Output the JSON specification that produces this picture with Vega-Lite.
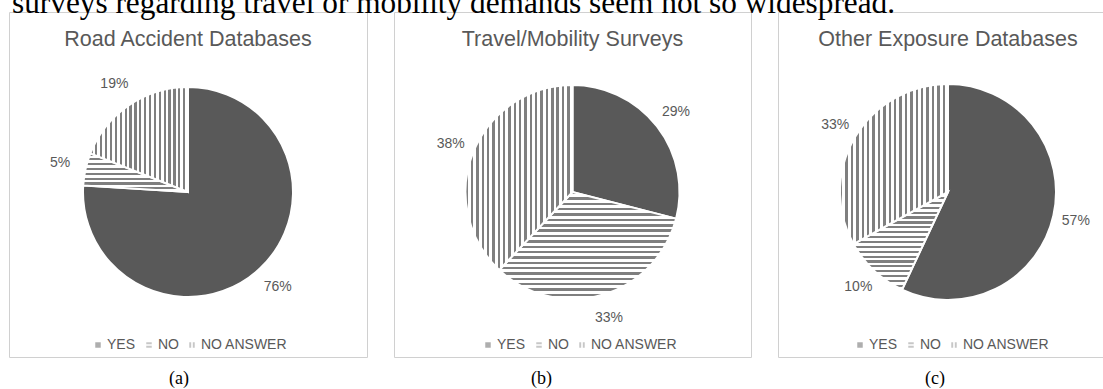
{
"$schema": "https://vega.github.io/schema/vega-lite/v6.json",
"autosize": {"type": "none"},
"padding": {"left": 9, "top": 12, "right": 1094, "bottom": 377},
"background": "white",
"title": {"text": "surveys regarding travel or mobility demands seem not so widespread.", "anchor": "start", "font": "Liberation Serif", "fontSize": 31.3, "color": "#000000", "offset": -7.5, "dx": 3},
"params": [
{"name": "gH8", "value": {"gradient": "linear", "x1": 0, "y1": 0, "x2": 0, "y2": 1, "stops": [
{"offset":0,"color":"#7f7f7f"},{"offset":0.05625,"color":"#7f7f7f"},{"offset":0.05625,"color":"#fff"},{"offset":0.125,"color":"#fff"},
{"offset":0.125,"color":"#7f7f7f"},{"offset":0.18125,"color":"#7f7f7f"},{"offset":0.18125,"color":"#fff"},{"offset":0.25,"color":"#fff"},
{"offset":0.25,"color":"#7f7f7f"},{"offset":0.30625,"color":"#7f7f7f"},{"offset":0.30625,"color":"#fff"},{"offset":0.375,"color":"#fff"},
{"offset":0.375,"color":"#7f7f7f"},{"offset":0.43125,"color":"#7f7f7f"},{"offset":0.43125,"color":"#fff"},{"offset":0.5,"color":"#fff"},
{"offset":0.5,"color":"#7f7f7f"},{"offset":0.55625,"color":"#7f7f7f"},{"offset":0.55625,"color":"#fff"},{"offset":0.625,"color":"#fff"},
{"offset":0.625,"color":"#7f7f7f"},{"offset":0.68125,"color":"#7f7f7f"},{"offset":0.68125,"color":"#fff"},{"offset":0.75,"color":"#fff"},
{"offset":0.75,"color":"#7f7f7f"},{"offset":0.80625,"color":"#7f7f7f"},{"offset":0.80625,"color":"#fff"},{"offset":0.875,"color":"#fff"},
{"offset":0.875,"color":"#7f7f7f"},{"offset":0.93125,"color":"#7f7f7f"},{"offset":0.93125,"color":"#fff"},{"offset":1,"color":"#fff"}
]}},
{"name": "gH20", "value": {"gradient": "linear", "x1": 0, "y1": 0, "x2": 0, "y2": 1, "stops": [
{"offset":0,"color":"#7f7f7f"},{"offset":0.0225,"color":"#7f7f7f"},{"offset":0.0225,"color":"#fff"},{"offset":0.05,"color":"#fff"},
{"offset":0.05,"color":"#7f7f7f"},{"offset":0.0725,"color":"#7f7f7f"},{"offset":0.0725,"color":"#fff"},{"offset":0.1,"color":"#fff"},
{"offset":0.1,"color":"#7f7f7f"},{"offset":0.1225,"color":"#7f7f7f"},{"offset":0.1225,"color":"#fff"},{"offset":0.15,"color":"#fff"},
{"offset":0.15,"color":"#7f7f7f"},{"offset":0.1725,"color":"#7f7f7f"},{"offset":0.1725,"color":"#fff"},{"offset":0.2,"color":"#fff"},
{"offset":0.2,"color":"#7f7f7f"},{"offset":0.2225,"color":"#7f7f7f"},{"offset":0.2225,"color":"#fff"},{"offset":0.25,"color":"#fff"},
{"offset":0.25,"color":"#7f7f7f"},{"offset":0.2725,"color":"#7f7f7f"},{"offset":0.2725,"color":"#fff"},{"offset":0.3,"color":"#fff"},
{"offset":0.3,"color":"#7f7f7f"},{"offset":0.3225,"color":"#7f7f7f"},{"offset":0.3225,"color":"#fff"},{"offset":0.35,"color":"#fff"},
{"offset":0.35,"color":"#7f7f7f"},{"offset":0.3725,"color":"#7f7f7f"},{"offset":0.3725,"color":"#fff"},{"offset":0.4,"color":"#fff"},
{"offset":0.4,"color":"#7f7f7f"},{"offset":0.4225,"color":"#7f7f7f"},{"offset":0.4225,"color":"#fff"},{"offset":0.45,"color":"#fff"},
{"offset":0.45,"color":"#7f7f7f"},{"offset":0.4725,"color":"#7f7f7f"},{"offset":0.4725,"color":"#fff"},{"offset":0.5,"color":"#fff"},
{"offset":0.5,"color":"#7f7f7f"},{"offset":0.5225,"color":"#7f7f7f"},{"offset":0.5225,"color":"#fff"},{"offset":0.55,"color":"#fff"},
{"offset":0.55,"color":"#7f7f7f"},{"offset":0.5725,"color":"#7f7f7f"},{"offset":0.5725,"color":"#fff"},{"offset":0.6,"color":"#fff"},
{"offset":0.6,"color":"#7f7f7f"},{"offset":0.6225,"color":"#7f7f7f"},{"offset":0.6225,"color":"#fff"},{"offset":0.65,"color":"#fff"},
{"offset":0.65,"color":"#7f7f7f"},{"offset":0.6725,"color":"#7f7f7f"},{"offset":0.6725,"color":"#fff"},{"offset":0.7,"color":"#fff"},
{"offset":0.7,"color":"#7f7f7f"},{"offset":0.7225,"color":"#7f7f7f"},{"offset":0.7225,"color":"#fff"},{"offset":0.75,"color":"#fff"},
{"offset":0.75,"color":"#7f7f7f"},{"offset":0.7725,"color":"#7f7f7f"},{"offset":0.7725,"color":"#fff"},{"offset":0.8,"color":"#fff"},
{"offset":0.8,"color":"#7f7f7f"},{"offset":0.8225,"color":"#7f7f7f"},{"offset":0.8225,"color":"#fff"},{"offset":0.85,"color":"#fff"},
{"offset":0.85,"color":"#7f7f7f"},{"offset":0.8725,"color":"#7f7f7f"},{"offset":0.8725,"color":"#fff"},{"offset":0.9,"color":"#fff"},
{"offset":0.9,"color":"#7f7f7f"},{"offset":0.9225,"color":"#7f7f7f"},{"offset":0.9225,"color":"#fff"},{"offset":0.95,"color":"#fff"},
{"offset":0.95,"color":"#7f7f7f"},{"offset":0.9725,"color":"#7f7f7f"},{"offset":0.9725,"color":"#fff"},{"offset":1,"color":"#fff"}
]}},
{"name": "gV20", "value": {"gradient": "linear", "x1": 0, "y1": 0, "x2": 1, "y2": 0, "stops": [
{"offset":0,"color":"#7f7f7f"},{"offset":0.0225,"color":"#7f7f7f"},{"offset":0.0225,"color":"#fff"},{"offset":0.05,"color":"#fff"},
{"offset":0.05,"color":"#7f7f7f"},{"offset":0.0725,"color":"#7f7f7f"},{"offset":0.0725,"color":"#fff"},{"offset":0.1,"color":"#fff"},
{"offset":0.1,"color":"#7f7f7f"},{"offset":0.1225,"color":"#7f7f7f"},{"offset":0.1225,"color":"#fff"},{"offset":0.15,"color":"#fff"},
{"offset":0.15,"color":"#7f7f7f"},{"offset":0.1725,"color":"#7f7f7f"},{"offset":0.1725,"color":"#fff"},{"offset":0.2,"color":"#fff"},
{"offset":0.2,"color":"#7f7f7f"},{"offset":0.2225,"color":"#7f7f7f"},{"offset":0.2225,"color":"#fff"},{"offset":0.25,"color":"#fff"},
{"offset":0.25,"color":"#7f7f7f"},{"offset":0.2725,"color":"#7f7f7f"},{"offset":0.2725,"color":"#fff"},{"offset":0.3,"color":"#fff"},
{"offset":0.3,"color":"#7f7f7f"},{"offset":0.3225,"color":"#7f7f7f"},{"offset":0.3225,"color":"#fff"},{"offset":0.35,"color":"#fff"},
{"offset":0.35,"color":"#7f7f7f"},{"offset":0.3725,"color":"#7f7f7f"},{"offset":0.3725,"color":"#fff"},{"offset":0.4,"color":"#fff"},
{"offset":0.4,"color":"#7f7f7f"},{"offset":0.4225,"color":"#7f7f7f"},{"offset":0.4225,"color":"#fff"},{"offset":0.45,"color":"#fff"},
{"offset":0.45,"color":"#7f7f7f"},{"offset":0.4725,"color":"#7f7f7f"},{"offset":0.4725,"color":"#fff"},{"offset":0.5,"color":"#fff"},
{"offset":0.5,"color":"#7f7f7f"},{"offset":0.5225,"color":"#7f7f7f"},{"offset":0.5225,"color":"#fff"},{"offset":0.55,"color":"#fff"},
{"offset":0.55,"color":"#7f7f7f"},{"offset":0.5725,"color":"#7f7f7f"},{"offset":0.5725,"color":"#fff"},{"offset":0.6,"color":"#fff"},
{"offset":0.6,"color":"#7f7f7f"},{"offset":0.6225,"color":"#7f7f7f"},{"offset":0.6225,"color":"#fff"},{"offset":0.65,"color":"#fff"},
{"offset":0.65,"color":"#7f7f7f"},{"offset":0.6725,"color":"#7f7f7f"},{"offset":0.6725,"color":"#fff"},{"offset":0.7,"color":"#fff"},
{"offset":0.7,"color":"#7f7f7f"},{"offset":0.7225,"color":"#7f7f7f"},{"offset":0.7225,"color":"#fff"},{"offset":0.75,"color":"#fff"},
{"offset":0.75,"color":"#7f7f7f"},{"offset":0.7725,"color":"#7f7f7f"},{"offset":0.7725,"color":"#fff"},{"offset":0.8,"color":"#fff"},
{"offset":0.8,"color":"#7f7f7f"},{"offset":0.8225,"color":"#7f7f7f"},{"offset":0.8225,"color":"#fff"},{"offset":0.85,"color":"#fff"},
{"offset":0.85,"color":"#7f7f7f"},{"offset":0.8725,"color":"#7f7f7f"},{"offset":0.8725,"color":"#fff"},{"offset":0.9,"color":"#fff"},
{"offset":0.9,"color":"#7f7f7f"},{"offset":0.9225,"color":"#7f7f7f"},{"offset":0.9225,"color":"#fff"},{"offset":0.95,"color":"#fff"},
{"offset":0.95,"color":"#7f7f7f"},{"offset":0.9725,"color":"#7f7f7f"},{"offset":0.9725,"color":"#fff"},{"offset":1,"color":"#fff"}
]}}
],
"spacing": 25,
"hconcat": [
{
 "width": 358, "height": 345,
 "view": {"stroke": "#d0d0d0", "strokeWidth": 1},
 "title": {"text": "Road Accident Databases"},
 "data": {"values": [{"answer": "YES", "share": 0.76, "k": 1}, {"answer": "NO", "share": 0.05, "k": 2}, {"answer": "NO ANSWER", "share": 0.19, "k": 3}]},
 "layer": [
  {"mark": {"type": "point", "filled": true, "yOffset": 7.5},
   "encoding": {
    "fill": {"field": "answer", "type": "nominal", "scale": {"domain": ["YES", "NO", "NO ANSWER"], "range": ["#595959", "#8c8c8c", "#8c8c8c"]}, "legend": {"title": null, "legendX": 82, "legendY": 326}},
    "shape": {"field": "answer", "type": "nominal", "scale": {"domain": ["YES", "NO", "NO ANSWER"], "range": ["M-1,-1H1V1H-1Z", "M-1,-1H1V-0.3H-1Z M-1,0.3H1V1H-1Z", "M-1,-1H-0.3V1H-1Z M0.3,-1H1V1H0.3Z"]}, "legend": {"title": null, "legendX": 82, "legendY": 326}},
    "opacity": {"field": "k", "type": "ordinal", "scale": {"range": [0, 0]}, "legend": {"title": "(a)", "legendX": 160, "legendY": 358, "titleOrient": "top", "titleAnchor": "start", "titlePadding": 0, "labelExpr": "''", "labelFontSize": 0, "labelOpacity": 0, "symbolOpacity": 0, "symbolSize": 0}}
   }},
  {"mark": {"type": "arc", "outerRadius": 105, "stroke": "white", "strokeWidth": 2, "yOffset": 7.5},
   "encoding": {"theta": {"field": "share", "type": "quantitative", "stack": true}, "order": {"field": "k", "type": "quantitative"},
    "fill": {"value": {"expr": "datum.answer === 'YES' ? '#595959' : datum.answer === 'NO' ? gH8 : gV20"}}}},
  {"mark": {"type": "text", "radius": 131, "yOffset": 7.5, "font": "Liberation Sans", "fontSize": 14, "fill": "#595959"},
   "encoding": {"theta": {"field": "share", "type": "quantitative", "stack": true}, "order": {"field": "k", "type": "quantitative"},
    "text": {"field": "share", "type": "quantitative", "format": ".0%"}}}
 ]
},
{
 "width": 357, "height": 345,
 "view": {"stroke": "#d0d0d0", "strokeWidth": 1},
 "title": {"text": "Travel/Mobility  Surveys"},
 "data": {"values": [{"answer": "YES", "share": 0.29, "k": 1}, {"answer": "NO", "share": 0.33, "k": 2}, {"answer": "NO ANSWER", "share": 0.38, "k": 3}]},
 "layer": [
  {"mark": {"type": "point", "filled": true, "yOffset": 7.5},
   "encoding": {
    "fill": {"field": "answer", "type": "nominal", "scale": {"domain": ["YES", "NO", "NO ANSWER"], "range": ["#595959", "#8c8c8c", "#8c8c8c"]}, "legend": {"title": null, "legendX": 87, "legendY": 326}},
    "shape": {"field": "answer", "type": "nominal", "scale": {"domain": ["YES", "NO", "NO ANSWER"], "range": ["M-1,-1H1V1H-1Z", "M-1,-1H1V-0.3H-1Z M-1,0.3H1V1H-1Z", "M-1,-1H-0.3V1H-1Z M0.3,-1H1V1H0.3Z"]}, "legend": {"title": null, "legendX": 87, "legendY": 326}},
    "opacity": {"field": "k", "type": "ordinal", "scale": {"range": [0, 0]}, "legend": {"title": "(b)", "legendX": 137, "legendY": 358, "titleOrient": "top", "titleAnchor": "start", "titlePadding": 0, "labelExpr": "''", "labelFontSize": 0, "labelOpacity": 0, "symbolOpacity": 0, "symbolSize": 0}}
   }},
  {"mark": {"type": "arc", "outerRadius": 107, "stroke": "white", "strokeWidth": 2, "yOffset": 7.5},
   "encoding": {"theta": {"field": "share", "type": "quantitative", "stack": true}, "order": {"field": "k", "type": "quantitative"},
    "fill": {"value": {"expr": "datum.answer === 'YES' ? '#595959' : datum.answer === 'NO' ? gH20 : gV20"}}}},
  {"mark": {"type": "text", "radius": 131, "yOffset": 7.5, "font": "Liberation Sans", "fontSize": 14, "fill": "#595959"},
   "encoding": {"theta": {"field": "share", "type": "quantitative", "stack": true}, "order": {"field": "k", "type": "quantitative"},
    "text": {"field": "share", "type": "quantitative", "format": ".0%"}}}
 ]
},
{
 "width": 340, "height": 345,
 "view": {"stroke": "#d0d0d0", "strokeWidth": 1},
 "title": {"text": "Other Exposure  Databases"},
 "data": {"values": [{"answer": "YES", "share": 0.57, "k": 1}, {"answer": "NO", "share": 0.10, "k": 2}, {"answer": "NO ANSWER", "share": 0.33, "k": 3}]},
 "layer": [
  {"mark": {"type": "point", "filled": true, "yOffset": 7.5},
   "encoding": {
    "fill": {"field": "answer", "type": "nominal", "scale": {"domain": ["YES", "NO", "NO ANSWER"], "range": ["#595959", "#8c8c8c", "#8c8c8c"]}, "legend": {"title": null, "legendX": 75, "legendY": 326}},
    "shape": {"field": "answer", "type": "nominal", "scale": {"domain": ["YES", "NO", "NO ANSWER"], "range": ["M-1,-1H1V1H-1Z", "M-1,-1H1V-0.3H-1Z M-1,0.3H1V1H-1Z", "M-1,-1H-0.3V1H-1Z M0.3,-1H1V1H0.3Z"]}, "legend": {"title": null, "legendX": 75, "legendY": 326}},
    "opacity": {"field": "k", "type": "ordinal", "scale": {"range": [0, 0]}, "legend": {"title": "(c)", "legendX": 147, "legendY": 358, "titleOrient": "top", "titleAnchor": "start", "titlePadding": 0, "labelExpr": "''", "labelFontSize": 0, "labelOpacity": 0, "symbolOpacity": 0, "symbolSize": 0}}
   }},
  {"mark": {"type": "arc", "outerRadius": 108, "stroke": "white", "strokeWidth": 2, "yOffset": 7.5},
   "encoding": {"theta": {"field": "share", "type": "quantitative", "stack": true}, "order": {"field": "k", "type": "quantitative"},
    "fill": {"value": {"expr": "datum.answer === 'YES' ? '#595959' : datum.answer === 'NO' ? gH20 : gV20"}}}},
  {"mark": {"type": "text", "radius": 131, "yOffset": 7.5, "font": "Liberation Sans", "fontSize": 14, "fill": "#595959"},
   "encoding": {"theta": {"field": "share", "type": "quantitative", "stack": true}, "order": {"field": "k", "type": "quantitative"},
    "text": {"field": "share", "type": "quantitative", "format": ".0%"}}}
 ]
}
],
"resolve": {"scale": {"fill": "independent", "shape": "independent", "opacity": "independent", "theta": "independent"}, "legend": {"fill": "independent", "shape": "independent", "opacity": "independent"}},
"config": {
 "view": {"stroke": "#d0d0d0", "strokeWidth": 1},
 "title": {"font": "Liberation Sans", "fontSize": 21.5, "fontWeight": "normal", "color": "#595959", "anchor": "middle", "frame": "group", "offset": -38},
 "legend": {"orient": "none", "direction": "horizontal", "symbolSize": 30, "symbolStrokeWidth": 0, "labelFont": "Liberation Sans", "labelFontSize": 14, "labelColor": "#595959", "labelOffset": 2, "columnPadding": 6, "padding": 0, "titleFont": "Liberation Serif", "titleFontSize": 18, "titleFontWeight": "normal", "titleColor": "#000000"}
}
}
